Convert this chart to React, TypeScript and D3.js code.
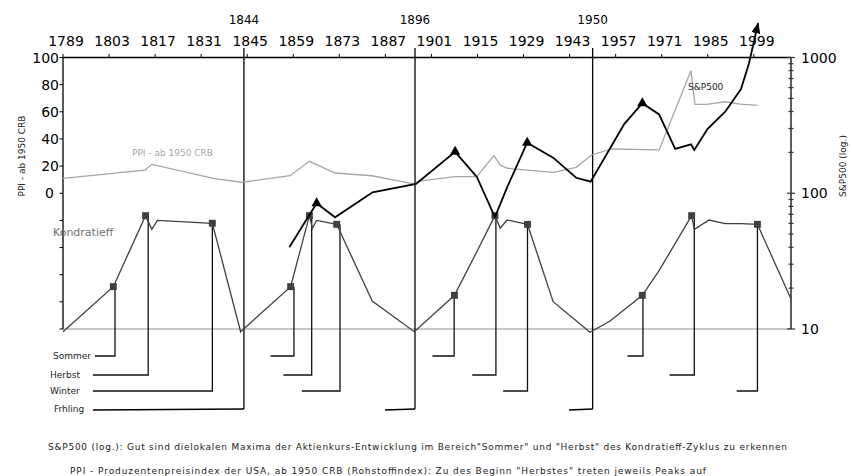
import React from "react";
import * as d3 from "d3";

const width = 852;
const height = 476;
const font = "DejaVu Sans, Verdana, sans-serif";

// top axis
const yearTicks = [1789, 1803, 1817, 1831, 1845, 1859, 1873, 1887, 1901, 1915, 1929, 1943, 1957, 1971, 1985, 1999];
const cycleYears = [1844, 1896, 1950];

// left axis (PPI), right axis (S&P500 log)
const ppiTicks = [-100, -80, -60, -40, -20, 0, 20, 40, 60, 80, 100];
const spMajor = [10, 100, 1000];
const spMinor = [20, 30, 40, 50, 60, 70, 80, 90, 200, 300, 400, 500, 600, 700, 800, 900];

// Kondratieff wave (left axis units)
const kondYears = [
  1789, 1804.3, 1814.1, 1816, 1817.7, 1834.4, 1843,
  1858.2, 1863.9, 1864.8, 1866.1, 1872.2, 1883, 1895.8,
  1908, 1914.6, 1920.3, 1921.9, 1924, 1930.2, 1938, 1949.2,
  1955.3, 1965.1, 1970.2, 1980.1, 1980.9, 1985.4, 1990.3, 1995.2, 2000.1, 2010.2,
];
const kondValues = [
  -102, -68.8, -16.5, -26.6, -20, -22.1, -102,
  -68.8, -16.5, -25.8, -20, -22.9, -79.4, -102,
  -75.2, -44, -16.5, -25.8, -19.7, -22.9, -79.9, -102.4,
  -94.1, -75.2, -57, -16.5, -26.6, -19.7, -22.4, -22.4, -22.9, -77.4,
];

// season markers on the wave
const markerYears = [1804.3, 1814.1, 1834.4, 1858.2, 1863.9, 1872.2, 1908, 1920.3, 1930.2, 1965.1, 1980.1, 2000.1];
const markerValues = [-68.8, -16.5, -22.1, -68.8, -16.5, -22.9, -75.2, -16.5, -22.9, -75.2, -16.5, -22.9];
const markerSeasons = ["Sommer", "Herbst", "Winter", "Sommer", "Herbst", "Winter", "Sommer", "Herbst", "Winter", "Sommer", "Herbst", "Winter"];
const calloutYears = [1804.8, 1814.9, 1834.4, 1859.2, 1864.6, 1873.2, 1907.9, 1920.6, 1930.2, 1965.3, 1980.9, 2000.1];
const calloutEnds = [1798.7, 1798.1, 1798.1, 1852.1, 1856, 1861.6, 1901.3, 1913.4, 1922.8, 1960.6, 1973.4, 1993.8];
const springEnds = [1798.1, 1886.9, 1942.8];
const seasons = ["Sommer", "Herbst", "Winter", "Frhling"];

// PPI (left axis)
const ppiYears = [
  1789, 1813.9, 1816, 1834.7, 1843.3, 1858, 1863.9, 1871.7, 1882.9, 1896, 1897.2,
  1908.2, 1914.8, 1920, 1921.9, 1924.1, 1938, 1945, 1949.7, 1955.8, 1970.2,
  1979.9, 1981.1, 1984.7, 1990.2, 1994.8, 2000.1,
];
const ppiValues = [
  11, 17.1, 21.3, 11, 8.1, 12.9, 23.5, 14.9, 12.9, 6.8, 9,
  12.2, 12.2, 27.7, 20.8, 18.4, 15.4, 19.1, 28.2, 32.6, 31.9,
  90.3, 65.5, 65.5, 67.4, 65.7, 64.8,
];

// S&P500 (right axis, log)
const spYears = [
  1857.8, 1866.1, 1871.7, 1883.1, 1896.3, 1908.2, 1914.8, 1920.3, 1924.1, 1930.1,
  1938, 1945, 1949.4, 1959.6, 1965.1, 1970.2, 1975.1, 1979.9, 1980.9, 1984.9,
  1990.3, 1995.1, 1997.5, 2000.3,
];
const spValues = [
  40, 84.3, 66.5, 101.6, 117, 202, 132, 66.8, 111.7, 235.6,
  182.9, 130, 121.7, 323, 460, 381, 212, 229, 208, 297,
  399, 586, 900, 1786,
];
const spPeakYears = [1866.1, 1908.2, 1930.1, 1965.1];

const note1 =
  'S&P500 (log.): Gut sind dielokalen Maxima der Aktienkurs-Entwicklung im Bereich"Sommer" und "Herbst" des Kondratieff-Zyklus  zu erkennen';
const note2 =
  'PPI - Produzentenpreisindex der USA, ab 1950 CRB (Rohstoffindex): Zu des  Beginn "Herbstes"  treten jeweils Peaks auf';

const App = () => {
  const left = 63;
  const right = 791;
  const top = 57.5;
  const bottom = 329;

  const x = d3.scaleLinear().domain([1789, 2010.3]).range([left, right]);
  const yL = d3.scaleLinear().domain([-100, 100]).range([bottom, top]);
  const yR = d3.scaleLog().domain([10, 1000]).range([bottom, top]);
  // label rows under the chart
  const seasonY = d3.scaleOrdinal<string, number>().domain(seasons).range([356, 375, 391, 409]);
  const seasonLabelX = d3.scaleOrdinal<string, number>().domain(seasons).range([53, 50, 50, 54]);

  const kondPath = d3
    .line<number>()
    .x((d) => x(d))
    .y((_, i) => yL(kondValues[i]))(kondYears);
  const ppiPath = d3
    .line<number>()
    .x((d) => x(d))
    .y((_, i) => yL(ppiValues[i]))(ppiYears);
  const spPath = d3
    .line<number>()
    .x((d) => x(d))
    .y((_, i) => yR(spValues[i]))(spYears);

  const square = d3.symbol(d3.symbolSquare, 48)();
  const triangle = d3.symbol(d3.symbolTriangle, 46)();

  return (
    <svg
      width={width}
      height={height}
      style={{ position: "absolute", left: 0, top: 0, background: "#fff" }}
      fontFamily={font}
    >
      <defs>
        <marker
          id="arrow"
          markerUnits="userSpaceOnUse"
          markerWidth={11}
          markerHeight={9}
          refX={10}
          refY={4.5}
          orient="auto"
        >
          <path d="M0,0 L11,4.5 L0,9 z" fill="#000" />
        </marker>
      </defs>

      {/* baseline */}
      <line x1={left} x2={right} y1={bottom} y2={bottom} stroke="#b5b5b5" strokeWidth={1.3} />

      {/* top axis */}
      <line x1={left} x2={right} y1={top} y2={top} stroke="#000" strokeWidth={1.3} />
      {yearTicks.map((t) => (
        <g key={t}>
          <line x1={x(t)} x2={x(t)} y1={top - 3.5} y2={top} stroke="#000" strokeWidth={1} />
          <text x={x(t) + 3} y={46} fontSize={14} textAnchor="middle" fill="#000">
            {t}
          </text>
        </g>
      ))}

      {/* left axis */}
      <line x1={left} x2={left} y1={top} y2={bottom} stroke="#000" strokeWidth={1.3} />
      {ppiTicks.map((t) => (
        <g key={t}>
          <line x1={left - 3.5} x2={left} y1={yL(t)} y2={yL(t)} stroke="#000" strokeWidth={1} />
          {t >= 0 && (
            <text x={t === 0 ? 54 : 59} y={yL(t) + 5} fontSize={14} textAnchor="end" fill="#000">
              {t}
            </text>
          )}
        </g>
      ))}
      <text transform="translate(25,156) rotate(-90)" fontSize={9} textAnchor="middle" fill="#222">
        PPI - ab 1950 CRB
      </text>

      {/* right axis */}
      <line x1={right} x2={right} y1={top} y2={bottom} stroke="#333" strokeWidth={1.6} />
      {spMinor.map((t) => (
        <line key={t} x1={right - 2.5} x2={right + 2.5} y1={yR(t)} y2={yR(t)} stroke="#333" strokeWidth={1.2} />
      ))}
      {spMajor.map((t) => (
        <g key={t}>
          <line x1={right - 4} x2={right + 4} y1={yR(t)} y2={yR(t)} stroke="#333" strokeWidth={1.2} />
          <text x={801} y={yR(t) + 5} fontSize={14} fill="#000">
            {t}
          </text>
        </g>
      ))}
      <text transform="translate(846,166) rotate(-90)" fontSize={9} textAnchor="middle" fill="#222">
        S&amp;P500 (log.)
      </text>

      {/* cycle boundaries */}
      {cycleYears.map((c, i) => (
        <g key={c}>
          <line x1={x(c)} x2={x(c)} y1={48} y2={seasonY("Frhling")} stroke="#000" strokeWidth={1.3} />
          <line
            x1={x(springEnds[i])}
            x2={x(c)}
            y1={seasonY("Frhling") + 1}
            y2={seasonY("Frhling")}
            stroke="#000"
            strokeWidth={1.3}
          />
          <text x={x(c)} y={23.5} fontSize={12} textAnchor="middle" fill="#000">
            {c}
          </text>
        </g>
      ))}

      {/* season callouts */}
      {markerYears.map((m, i) => (
        <path
          key={m}
          d={`M${x(calloutYears[i])},${yL(markerValues[i])}V${seasonY(markerSeasons[i])}H${x(calloutEnds[i])}`}
          fill="none"
          stroke="#111"
          strokeWidth={1.3}
        />
      ))}
      {seasons.map((s) => (
        <text key={s} x={seasonLabelX(s)} y={seasonY(s) + 3} fontSize={9} fill="#222">
          {s}
        </text>
      ))}

      {/* PPI */}
      <path d={ppiPath ?? ""} fill="none" stroke="#a6a6a6" strokeWidth={1.3} />
      <text x={132} y={156} fontSize={9} fill="#a6a6a6">
        PPI - ab 1950 CRB
      </text>

      {/* Kondratieff */}
      <path d={kondPath ?? ""} fill="none" stroke="#404040" strokeWidth={1.3} />
      {markerYears.map((m, i) => (
        <path key={m} d={square ?? ""} transform={`translate(${x(m)},${yL(markerValues[i])})`} fill="#404040" />
      ))}
      <text x={53} y={236} fontSize={11} fill="#707070">
        Kondratieff
      </text>

      {/* S&P500 */}
      <path d={spPath ?? ""} fill="none" stroke="#000" strokeWidth={1.8} markerEnd="url(#arrow)" />
      {spPeakYears.map((p) => (
        <path
          key={p}
          d={triangle ?? ""}
          transform={`translate(${x(p)},${yR(spValues[spYears.indexOf(p)])})`}
          fill="#000"
        />
      ))}
      <text x={688} y={90} fontSize={9} fill="#222">
        S&amp;P500
      </text>

      {/* notes */}
      <text x={48} y={450} fontSize={9} fill="#222" textLength={739} lengthAdjust="spacing">
        {note1}
      </text>
      <text x={70} y={474} fontSize={9} fill="#222" textLength={636} lengthAdjust="spacing">
        {note2}
      </text>
    </svg>
  );
};

export default App;
